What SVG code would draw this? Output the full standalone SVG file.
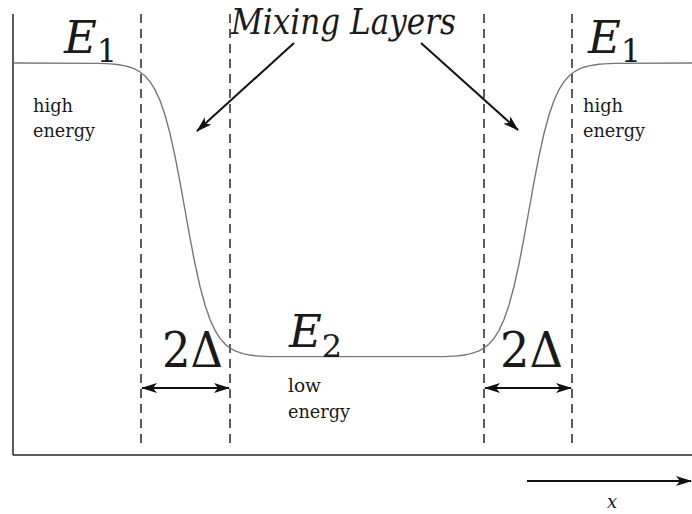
<svg xmlns="http://www.w3.org/2000/svg" width="692" height="514" viewBox="0 0 692 514">
<style>
.ax{stroke:#222;stroke-width:1.5;fill:none}
.dash{stroke:#333;stroke-width:1.6;stroke-dasharray:9 6;fill:none}
.curve{stroke:#777;stroke-width:1.4;fill:none}
.arr{stroke:#111;stroke-width:2;fill:none}
.t{font-family:'DejaVu Serif','Liberation Serif',serif;fill:#1a1a1a}
.it{font-style:italic}
.sm{font-size:19px}
</style>
<defs>
<marker id="ah" viewBox="0 0 16 10" refX="15" refY="5" markerWidth="16" markerHeight="10" markerUnits="userSpaceOnUse" orient="auto-start-reverse">
<path d="M0,0 L16,5 L0,10 L4,5 Z" fill="#111"/>
</marker>
</defs>
<rect width="692" height="514" fill="#fff"/>
<g id="axes">
<line class="ax" x1="13" y1="14" x2="13" y2="455"/>
<line class="ax" x1="13" y1="455" x2="692" y2="455"/>
</g>
<g id="dashed-lines">
<line class="dash" x1="141" y1="14" x2="141" y2="447"/>
<line class="dash" x1="230" y1="14" x2="230" y2="447"/>
<line class="dash" x1="484" y1="14" x2="484" y2="447"/>
<line class="dash" x1="572" y1="14" x2="572" y2="447"/>
</g>
<g id="energy-curve">
<polyline class="curve" points="13,63 100,63.4 105,63.6 110,63.9 115,64.3 120,65 125,65.9 130,67.2 135,69.2 140,72 145,76 150,81.6 155,89.6 160,100.5 165,115 170,133.5 175,156.1 180,182.1 185,210 190,237.9 195,263.9 200,286.5 205,305 210,319.5 215,330.4 220,338.4 225,344 230,348 235,350.8 240,352.7 245,354.1 250,355 255,355.7 260,356.1 265,356.4 270,356.6 444,356.6 449,356.4 454,356.1 459,355.7 464,355 469,354.1 474,352.7 479,350.8 484,348 489,344 494,338.4 499,330.4 504,319.5 509,305 514,286.5 519,263.9 524,237.9 529,210 534,182.1 539,156.1 544,133.5 549,115 554,100.5 559,89.6 564,81.6 569,76 574,72 579,69.2 584,67.2 589,65.9 594,65 599,64.3 604,63.9 609,63.6 614,63.4 692,63"/>
</g>
<g id="label-E1-left">
<text class="t it" x="64" y="53" font-size="45">E<tspan font-style="normal" font-size="32" dy="9">1</tspan></text>
</g>
<g id="label-E1-right">
<text class="t it" x="588" y="53" font-size="45">E<tspan font-style="normal" font-size="32" dy="9">1</tspan></text>
</g>
<g id="label-E2">
<text class="t it" x="289" y="347" font-size="45">E<tspan font-style="normal" font-size="32" dy="10">2</tspan></text>
</g>
<g id="label-mixing">
<text class="t it" x="231" y="34" font-size="35" textLength="225" lengthAdjust="spacingAndGlyphs">Mixing Layers</text>
</g>
<g id="label-high-left">
<text class="t sm" x="33" y="112" textLength="40" lengthAdjust="spacingAndGlyphs">high</text>
<text class="t sm" x="33" y="137" textLength="62" lengthAdjust="spacingAndGlyphs">energy</text>
</g>
<g id="label-high-right">
<text class="t sm" x="583" y="112" textLength="40" lengthAdjust="spacingAndGlyphs">high</text>
<text class="t sm" x="583" y="137" textLength="62" lengthAdjust="spacingAndGlyphs">energy</text>
</g>
<g id="label-low">
<text class="t sm" x="288" y="392" textLength="33" lengthAdjust="spacingAndGlyphs">low</text>
<text class="t sm" x="288" y="418" textLength="62" lengthAdjust="spacingAndGlyphs">energy</text>
</g>
<g id="label-2delta-left">
<text class="t" x="162" y="367" font-size="48" textLength="61" lengthAdjust="spacingAndGlyphs">2Δ</text>
</g>
<g id="label-2delta-right">
<text class="t" x="500" y="367" font-size="48" textLength="63" lengthAdjust="spacingAndGlyphs">2Δ</text>
</g>
<g id="label-x">
<text class="t it" x="607" y="508" font-size="18">x</text>
</g>
<g id="connectors">
<line class="arr" x1="294" y1="43" x2="197" y2="131" marker-end="url(#ah)"/>
<line class="arr" x1="421" y1="43" x2="518" y2="130" marker-end="url(#ah)"/>
<line class="arr" x1="142" y1="388" x2="229" y2="388" marker-start="url(#ah)" marker-end="url(#ah)"/>
<line class="arr" x1="485" y1="388" x2="571" y2="388" marker-start="url(#ah)" marker-end="url(#ah)"/>
<line class="arr" x1="527" y1="481" x2="691" y2="481" marker-end="url(#ah)"/>
</g>
</svg>
